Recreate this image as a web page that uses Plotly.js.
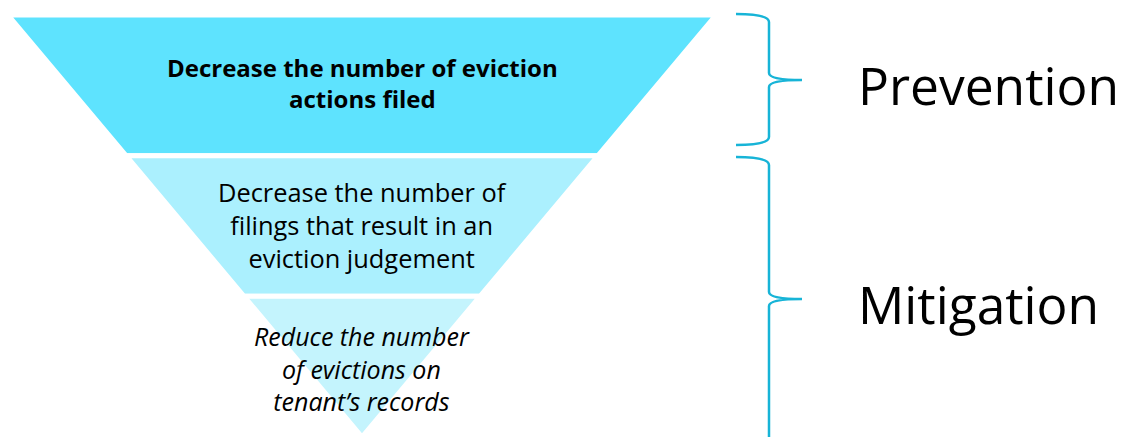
<!DOCTYPE html>
<html><head><meta charset="utf-8">
<script src="https://cdn.plot.ly/plotly-3.0.1.min.js"></script>
<style>html,body{margin:0;padding:0;background:#fff;}#chart{width:1121px;height:437px;}text{font-variant-ligatures:none;}</style>
</head><body><div id="chart"></div>
<script>
// ---- data ----
const stages = [
  'Decrease the number of eviction<br>actions filed',
  'Decrease the number of<br>filings that result in an<br>eviction judgement',
  'Reduce the number<br>of evictions on<br>tenant\u2019s records'
];
// relative areas of the three equal-height slices of the inverted triangle
const stageAreas = [5, 3, 1];
const stageColors = ['#5EE3FE', '#ABF0FE', '#C4F4FD'];
const groups = ['Prevention', 'Mitigation'];

// ---- layout helpers ----
const W = 1121, H = 437;
const px = x => x / W;
const py = y => 1 - y / H;
const FT = 15, FB = 437, FL = 8, FR = 716;   // funnel box (pixels)
const cx = (FL + FR) / 2;
const FAM = '"Open Sans", "Noto Sans", sans-serif';

const fontStyles = [
  {family: FAM, size: 24, weight: 700, style: 'normal'},
  {family: FAM, size: 25.4, weight: 400, style: 'normal'},
  {family: FAM, size: 25, weight: 400, style: 'italic'}
];

const trace = {
  type: 'funnelarea',
  values: stageAreas,
  text: stages,
  textinfo: 'none',
  sort: false,
  baseratio: 0,
  aspectratio: (FB - FT) / (FR - FL),
  domain: {x: [px(FL), px(FR)], y: [py(FB), py(FT)]},
  marker: {colors: stageColors, line: {color: '#ffffff', width: 5}},
  hoverinfo: 'skip',
  showlegend: false
};

const textY = [83, 225, 368];
const annotations = stages.map((s, i) => ({
  xref: 'paper', yref: 'paper', x: px(cx), y: py(textY[i]),
  xanchor: 'center', yanchor: 'middle', showarrow: false, align: 'center',
  text: s,
  font: Object.assign({color: '#000000'}, fontStyles[i])
}));

// braces: [top, bottom, tip]
const braces = [[14, 145, 80], [157, 441, 299]];
const bx0 = 736, bx1 = 769, bx2 = 802;
function bracePath(y0, y1, m, closed) {
  const P = (x, y) => px(x).toFixed(5) + ',' + py(y).toFixed(5);
  let d = 'M' + P(bx0, y0) + ' Q' + P(bx1, y0) + ' ' + P(bx1, y0 + 8) +
    ' L' + P(bx1, m - 7) + ' Q' + P(bx1, m) + ' ' + P(bx2, m) +
    ' Q' + P(bx1, m) + ' ' + P(bx1, m + 7);
  if (closed) d += ' L' + P(bx1, y1 - 8) + ' Q' + P(bx1, y1) + ' ' + P(bx0, y1);
  else d += ' L' + P(bx1, y1);
  return d;
}
const shapes = braces.map((b, i) => ({
  type: 'path', xref: 'paper', yref: 'paper', path: bracePath(b[0], b[1], b[2], i === 0),
  line: {color: '#17B4D7', width: 2.5}
}));

const labelY = [85, 304];
groups.forEach((g, i) => {
  annotations.push({
    xref: 'paper', yref: 'paper', x: px(856), y: py(labelY[i]),
    xanchor: 'left', yanchor: 'middle', showarrow: false,
    text: g, font: {family: FAM, size: 51.5, color: '#000000'}
  });
});

const layout = {
  width: W, height: H,
  margin: {l: 0, r: 0, t: 0, b: 0},
  paper_bgcolor: '#ffffff', plot_bgcolor: '#ffffff',
  showlegend: false,
  annotations: annotations,
  shapes: shapes
};

Plotly.newPlot('chart', [trace], layout, {staticPlot: true, displayModeBar: false});
</script>
</body></html>
